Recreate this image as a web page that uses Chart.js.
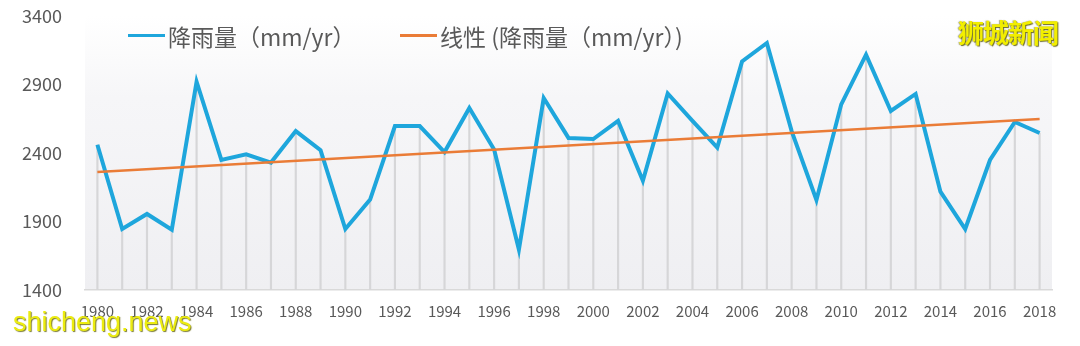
<!DOCTYPE html>
<html>
<head>
<meta charset="utf-8">
<script src="https://cdn.jsdelivr.net/npm/chart.js@4/dist/chart.umd.min.js"></script>
<style>
  body { margin: 0; background: #fff; }
  #wrap { position: relative; width: 1080px; height: 346px; }
  .leg { position: absolute; top: 20px; height: 32px; font: 23px "Noto Sans CJK SC", sans-serif; color: #595959; line-height: 32px; white-space: nowrap; }
  .leg i { position: absolute; top: 14px; height: 3px; width: 37px; }
  .leg span { position: absolute; left: 40px; }
  #mark1 { position: absolute; left: 958px; top: 13px; font: 26px "Noto Sans CJK SC", sans-serif; font-weight: 600; color: #f2ee00;
           text-shadow: 1px 1px 1px #6b6b2a, -1px 0 1px rgba(90,90,40,.5); letter-spacing: -1px; }
  #mark2 { position: absolute; left: 13px; top: 307px; font: 27px "Liberation Sans", sans-serif; color: #ecec10;
           text-shadow: 1px 1px 1px #7a7a30; }
</style>
</head>
<body>
<div id="wrap">
  <canvas id="rainChart"></canvas>
  <div id="legend"></div>
  <div id="mark1">狮城新闻</div>
  <div id="mark2">shicheng.news</div>
</div>
<script>
// years on the x axis
const years = [];
for (let y = 1980; y <= 2018; y++) years.push(String(y));

// annual rainfall, mm/yr
const rainfall = [
  2460, 1845, 1955, 1840, 2920, 2350, 2390, 2330, 2560, 2420,
  1845, 2060, 2597, 2597, 2407, 2728, 2425, 1695, 2801, 2510,
  2502, 2634, 2198, 2835, 2634, 2440, 3068, 3203, 2560, 2057,
  2755, 3118, 2707, 2831, 2118, 1845, 2349, 2627, 2546
];

// linear trend, value at first and last year
const trendStart = 2261;
const trendEnd = 2648;

const yTicks = [1400, 1900, 2400, 2900, 3400];

const rainLabel = "降雨量（mm/yr）";
const trendLabel = "线性 (降雨量（mm/yr）)";
const blue = "#1ea6dc";
const orange = "#ea7c37";

const trend = years.map((_, i) => i === 0 ? trendStart : i === years.length - 1 ? trendEnd : null);

// soft gray fill behind the plot
const plotBg = {
  id: "plotBg",
  beforeDraw(chart) {
    const { ctx, chartArea: a } = chart;
    const g = ctx.createLinearGradient(0, a.top, 0, a.bottom);
    g.addColorStop(0, "#ffffff");
    g.addColorStop(0.3, "#f6f6f8");
    g.addColorStop(1, "#efeff2");
    ctx.save();
    ctx.fillStyle = g;
    ctx.fillRect(a.left, a.top, a.right - a.left, a.bottom - a.top);
    ctx.restore();
  }
};

const ctx = document.getElementById("rainChart").getContext("2d");
const chart = new Chart(ctx, {
  data: {
    labels: years,
    datasets: [
      {
        type: "line",
        label: trendLabel,
        data: trend,
        borderColor: orange,
        backgroundColor: orange,
        borderWidth: 2.5,
        pointRadius: 0,
        spanGaps: true,
        order: 0
      },
      {
        type: "line",
        label: rainLabel,
        data: rainfall,
        borderColor: blue,
        backgroundColor: blue,
        borderWidth: 4,
        pointRadius: 0,
        tension: 0,
        order: 1
      },
      {
        // drop lines from each point to the axis
        type: "bar",
        label: "drop",
        data: rainfall,
        backgroundColor: "#d6d6d8",
        barThickness: 1.5,
        order: 2
      }
    ]
  },
  options: {
    responsive: true,
    maintainAspectRatio: false,
    animation: false,
    layout: { padding: { top: 16, right: 28, left: 0, bottom: 0 } },
    plugins: {
      legend: { display: false },
      tooltip: { enabled: false }
    },
    scales: {
      x: {
        offset: true,
        grid: { display: false, drawTicks: false },
        border: { display: true, color: "#d9d9d9", width: 1.5 },
        ticks: {
          autoSkip: false,
          maxRotation: 0,
          padding: 12,
          color: "#595959",
          font: { family: "'Noto Sans CJK SC', sans-serif", size: 15 },
          callback: (v, i) => i % 2 === 0 ? years[i] : ""
        },
        afterFit: s => { s.height = 56; s.paddingLeft = 0; s.paddingRight = 0; }
      },
      y: {
        min: 1400,
        max: 3400,
        grid: { display: false, drawTicks: false },
        border: { display: false },
        afterBuildTicks: s => { s.ticks = yTicks.map(v => ({ value: v })); },
        ticks: {
          padding: 23,
          color: "#595959",
          font: { family: "'Noto Sans CJK SC', sans-serif", size: 18 },
          callback: v => String(v)
        },
        afterFit: s => { s.width = 85; s.paddingTop = 0; s.paddingBottom = 0; }
      }
    }
  },
  plugins: [plotBg]
});

// legend drawn over the top of the plot
const legend = document.getElementById("legend");
[[rainLabel, blue, 128], [trendLabel, orange, 400]].forEach(([text, color, left]) => {
  const d = document.createElement("div");
  d.className = "leg";
  d.style.left = left + "px";
  d.innerHTML = `<i style="background:${color}"></i><span>${text}</span>`;
  legend.appendChild(d);
});
</script>
</body>
</html>
